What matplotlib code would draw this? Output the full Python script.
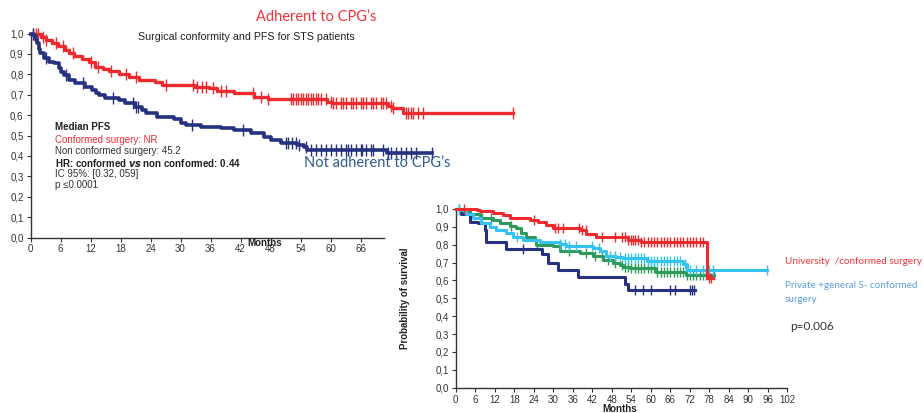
import numpy as np
import matplotlib
matplotlib.use("Agg")
import matplotlib.pyplot as plt

# ---------------- data ----------------
# Left chart: PFS by surgical conformity (step change points: month, survival)
conf_t = [0, 2.0, 3.0, 4.2, 5.5, 6.8, 7.6, 8.6, 10.3, 11.6, 12.9, 14.5, 15.6, 17.6, 19.6, 21.6, 24.9, 26.3, 32.9,
          35.6, 37.3, 40.7, 44.7, 47.5, 59.3, 60.3, 71.5, 72.3, 74.5, 96.5]
conf_s = [1.0, 0.985, 0.97, 0.955, 0.94, 0.92, 0.905, 0.89, 0.875, 0.86, 0.835, 0.825, 0.815, 0.8, 0.785, 0.77, 0.763,
          0.75, 0.74, 0.731, 0.718, 0.706, 0.69, 0.678, 0.665, 0.658, 0.645, 0.633, 0.609, 0.609]
conf_cens = [0.5, 1, 1.5, 2.5, 3, 5, 6.5, 8.5, 12, 13.5, 16, 19, 21, 27, 32.5, 33.3, 34.2, 35, 36.5, 38, 39, 44.5, 46,
             47.5, 52, 52.5, 53, 53.5, 54, 54.5, 55, 55.5, 56, 56.5, 57, 57.5, 58, 59, 60, 60.5, 61, 62, 62.5, 63, 64,
             64.5, 65, 66, 66.5, 67, 68, 68.5, 69, 70, 70.5, 71, 72, 72.5, 75, 75.5, 76, 76.5, 77.5, 78.5, 96.5]
nonc_t = [0, 0.6, 1.0, 1.3, 1.6, 1.9, 2.6, 3.6, 4.6, 5.6, 6.1, 6.6, 7.6, 8.9, 10.9, 12.3, 13.0, 13.6, 14.9, 17.6, 18.9,
          20.9, 22.3, 23, 25.3, 28.7, 30, 31, 34, 38, 40.7, 44, 46.7, 48, 50, 53.3, 54.7, 55.3, 70.7, 71.3, 80.3]
nonc_s = [1.0, 0.99, 0.97, 0.951, 0.925, 0.902, 0.878, 0.861, 0.853, 0.829, 0.81, 0.796, 0.772, 0.755, 0.739, 0.723,
          0.71, 0.698, 0.682, 0.674, 0.658, 0.641, 0.625, 0.608, 0.592, 0.579, 0.563, 0.551, 0.543, 0.535, 0.527, 0.511,
          0.494, 0.478, 0.465, 0.455, 0.442, 0.429, 0.429, 0.413, 0.413]
nonc_cens = [0.5, 3, 7, 10.5, 16.5, 20.5, 21, 21.5, 32.3, 42.5, 51, 51.5, 52.2, 53, 53.7, 55, 56, 57, 58, 59, 60, 61, 62,
             63, 63.5, 64, 65, 66, 66.3, 67, 68, 68.5, 70.5, 71.5, 72, 73, 74, 75, 76, 77, 80.3]

# Right chart: survival by hospital type / conformity
univ_t = [0, 6.4, 7.4, 11.5, 14.6, 16.6, 22.8, 25.3, 27.9, 29.9, 38.1, 40.2, 43.3, 53, 57, 77.2, 79.2]
univ_s = [1.0, 0.996, 0.989, 0.978, 0.965, 0.952, 0.941, 0.928, 0.91, 0.892, 0.883, 0.861, 0.846, 0.826, 0.817, 0.612,
          0.612]
univ_cens = [2.5, 24, 30.5, 31.5, 33, 38, 39, 40, 45, 49, 51, 52, 53, 54, 54.5, 55, 56, 57, 58, 59, 60, 61, 62, 63, 64,
             65, 66, 67, 68, 69, 70, 71, 72, 73, 74, 75, 76, 77.8, 78.6]
priv_t = [0, 1.2, 3.3, 5.3, 7.9, 10.5, 12.5, 15.6, 17.6, 20.7, 25.8, 32, 34, 42.2, 44.3, 46.3, 49.4, 51.6, 58.7, 70,
          71, 95.7]
priv_s = [1.0, 0.993, 0.974, 0.947, 0.919, 0.901, 0.883, 0.864, 0.846, 0.828, 0.813, 0.806, 0.791, 0.782, 0.763, 0.739,
          0.732, 0.724, 0.709, 0.69, 0.659, 0.659]
priv_cens = [1, 19, 32, 33.5, 35, 37, 42, 44, 47.5, 49, 50.5, 52, 53, 54, 55, 56, 57, 58, 59, 60, 61, 62, 63, 64, 65, 66,
             67, 68, 69, 70.5, 72, 74, 76, 78, 79, 95.7]
gen_t = [0, 1.2, 4.3, 7.4, 11.5, 13.5, 16.6, 18.7, 20.2, 21.7, 24.3, 24.8, 29.9, 32, 38.1, 42.2, 45.3, 48.4, 50.4, 51.6,
         53.5, 61.6, 70.8, 79.5]
gen_s = [1.0, 0.989, 0.971, 0.952, 0.941, 0.923, 0.905, 0.892, 0.864, 0.842, 0.828, 0.8, 0.791, 0.763, 0.754, 0.736,
         0.717, 0.699, 0.686, 0.677, 0.668, 0.649, 0.631, 0.631]
gen_cens = [1, 8, 11, 17, 25, 35, 40, 43, 45, 47, 49, 51, 52, 53, 54, 55, 56, 57, 58, 59, 60, 61, 62, 63, 64, 65, 66,
            67, 68, 69, 70, 71, 72, 73, 74, 75, 76, 77, 78, 79.5]
oth_t = [0, 1.7, 4.3, 6.9, 8.9, 9.4, 15.6, 26.4, 28.4, 31.5, 37.6, 52, 53, 73.6]
oth_s = [1.0, 0.974, 0.928, 0.919, 0.883, 0.813, 0.778, 0.75, 0.70, 0.66, 0.621, 0.58, 0.547, 0.547]
oth_cens = [20.7, 55, 57.5, 60, 66, 67.5, 72, 72.6, 73.2]

ytick_vals = [0.0, 0.1, 0.2, 0.3, 0.4, 0.5, 0.6, 0.7, 0.8, 0.9, 1.0]
ytick_labels = ["0,0", "0,1", "0,2", "0,3", "0,4", "0,5", "0,6", "0,7", "0,8", "0,9", "1,0"]
left_xticks = [0, 6, 12, 18, 24, 30, 36, 42, 48, 54, 60, 66]
right_xticks = [0, 6, 12, 18, 24, 30, 36, 42, 48, 54, 60, 66, 72, 78, 84, 90, 96, 102]

RED = "#ee2a2e"
NAVY = "#26317f"
CYAN = "#33c3f0"
GREEN = "#2e9a5c"

plt.rcParams["font.family"] = ["Liberation Sans", "DejaVu Sans"]

W, H = 924, 413
fig = plt.figure(figsize=(W / 100, H / 100), dpi=100)
fig.patch.set_facecolor("white")


def px_axes(x0, y_top, x1, y_bot):
    return fig.add_axes([x0 / W, 1 - y_bot / H, (x1 - x0) / W, (y_bot - y_top) / H])


def km(ax, t, s, cens, color, lw, ms):
    t = np.asarray(t, float)
    s = np.asarray(s, float)
    ax.step(t, s, where="post", color=color, lw=lw, clip_on=False, zorder=3)
    c = np.asarray(cens, float)
    idx = np.clip(np.searchsorted(t, c, side="right") - 1, 0, len(s) - 1)
    ax.plot(c, s[idx], ls="none", marker="|", ms=ms, mew=1.0, color=color, clip_on=False, zorder=3)


def style(ax):
    for sp in ["top", "right"]:
        ax.spines[sp].set_visible(False)
    for sp in ["left", "bottom"]:
        ax.spines[sp].set_linewidth(1.0)
        ax.spines[sp].set_color("#333333")
    ax.patch.set_alpha(0)
    ax.tick_params(length=3, width=0.8, colors="#333333", labelsize=7, labelcolor="#333333", pad=2)
    ax.set_yticks(ytick_vals)
    ax.set_yticklabels(ytick_labels)


# ---------------- left chart ----------------
axL = px_axes(30.5, 33.5, 30.5 + 96.5 * 5, 237.5)
axL.set_xlim(0, 96.5)
axL.set_ylim(0, 1)
style(axL)
axL.spines["bottom"].set_bounds(0, 70.6)
axL.set_xticks(left_xticks)
km(axL, conf_t, conf_s, conf_cens, RED, 2.4, 8)
km(axL, nonc_t, nonc_s, nonc_cens, NAVY, 2.6, 8)

fig.text(246 / W, 1 - 37 / H, "Surgical conformity and PFS for STS patients", fontsize=7.7,
         ha="center", va="center", color="#222222")
fig.text(265 / W, 1 - 243 / H, "Months", fontsize=7, fontweight="bold", ha="center", va="center", color="#222222")

tx = 55 / W
fs = 7
fig.text(tx, 1 - 127 / H, "Median PFS", fontsize=fs, fontweight="bold", va="center", color="#222222")
fig.text(tx, 1 - 140 / H, "Conformed surgery: NR", fontsize=fs, va="center", color=RED)
fig.text(tx, 1 - 151 / H, "Non conformed surgery: 45.2", fontsize=fs, va="center", color="#333333")
fig.text(tx, 1 - 163 / H, r"HR: conformed $\mathbfit{vs}$ non conformed: 0.44", fontsize=fs, fontweight="bold",
         va="center", color="#222222")
fig.text(tx, 1 - 174 / H, "IC 95%: [0.32, 059]", fontsize=fs, va="center", color="#333333")
fig.text(tx, 1 - 185 / H, "p \u22640.0001", fontsize=fs, va="center", color="#333333")

fig.text(316 / W, 1 - 17 / H, "Adherent to CPG\u2019s", fontsize=10.5, color="#f0333a", ha="center", va="center",
         family=["Lato", "DejaVu Sans"])
fig.text(377 / W, 1 - 163 / H, "Not adherent to CPG\u2019s", fontsize=10.5, color="#2f5a91", ha="center", va="center",
         family=["Lato", "DejaVu Sans"])

# ---------------- right chart ----------------
axR = px_axes(455.7, 209, 455.7 + 331.6, 387.7)
axR.set_xlim(0, 102)
axR.set_ylim(0, 1)
style(axR)
axR.set_xticks(right_xticks)
km(axR, gen_t, gen_s, gen_cens, GREEN, 2.2, 7)
km(axR, oth_t, oth_s, oth_cens, NAVY, 2.2, 7)
km(axR, priv_t, priv_s, priv_cens, CYAN, 2.2, 7)
km(axR, univ_t, univ_s, univ_cens, RED, 2.2, 7)

fig.text(405 / W, 1 - 298 / H, "Probability of survival", fontsize=7, fontweight="bold", rotation=90,
         ha="center", va="center", color="#222222")
fig.text(620 / W, 1 - 409 / H, "Months", fontsize=7, fontweight="bold", ha="center", va="center", color="#222222")

fig.text(785 / W, 1 - 261 / H, "University  /conformed surgery", fontsize=7.1, color="#f0333a", va="center",
         family=["Lato", "DejaVu Sans"])
fig.text(785 / W, 1 - 286 / H, "Private +general S- conformed", fontsize=7.1, color="#5aa0dc", va="center",
         family=["Lato", "DejaVu Sans"])
fig.text(785 / W, 1 - 300 / H, "surgery", fontsize=7.1, color="#5aa0dc", va="center",
         family=["Lato", "DejaVu Sans"])
fig.text(790 / W, 1 - 326 / H, "p=0.006", fontsize=8.5, color="#333333", va="center",
         family=["Lato", "DejaVu Sans"])

fig.savefig("out.png", dpi=100, facecolor="white")
